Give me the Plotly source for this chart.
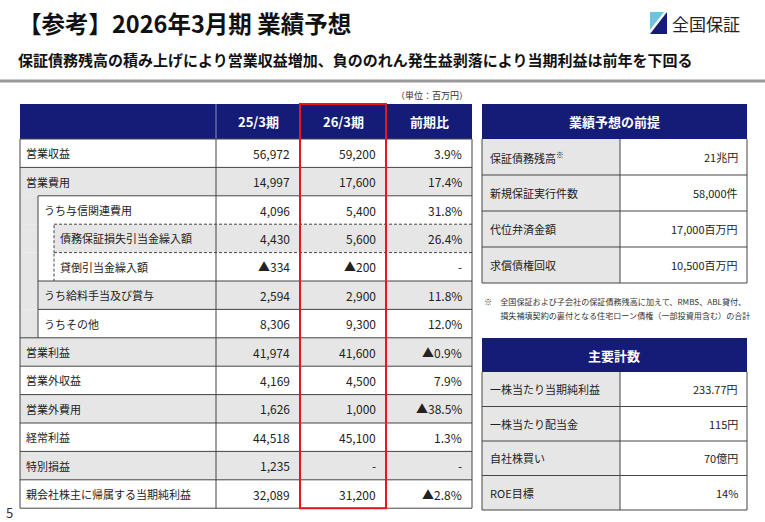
import plotly.graph_objects as go

FONT = "Noto Sans CJK JP"
NAVY = "#141c78"
GRAY = "#e6e6e6"

col_headers = ["25/3期", "26/3期", "前期比"]
row_labels = ["営業収益", "営業費用", "うち与信関連費用", "債務保証損失引当金繰入額", "貸倒引当金繰入額",
              "うち給料手当及び賞与", "うちその他", "営業利益", "営業外収益", "営業外費用", "経常利益",
              "特別損益", "親会社株主に帰属する当期純利益"]
row_levels = [0, 0, 1, 2, 2, 1, 1, 0, 0, 0, 0, 0, 0]
fy25 = ["56,972", "14,997", "4,096", "4,430", "▲334", "2,594", "8,306", "41,974", "4,169", "1,626", "44,518", "1,235", "32,089"]
fy26 = ["59,200", "17,600", "5,400", "5,600", "▲200", "2,900", "9,300", "41,600", "4,500", "1,000", "45,100", "-", "31,200"]
yoy = ["3.9%", "17.4%", "31.8%", "26.4%", "-", "11.8%", "12.0%", "▲0.9%", "7.9%", "▲38.5%", "1.3%", "-", "▲2.8%"]

prem_labels = ["保証債務残高<sup>※</sup>", "新規保証実行件数", "代位弁済金額", "求償債権回収"]
prem_values = ["21兆円", "58,000件", "17,000百万円", "10,500百万円"]
key_labels = ["一株当たり当期純利益", "一株当たり配当金", "自社株買い", "ROE目標"]
key_values = ["233.77円", "115円", "70億円", "14%"]

shapes, ann = [], []
DASH = "3px,2px"

def rect(x0, y0, x1, y1, fill, line=None, w=1, dash=None):
    shapes.append(dict(type="rect", xref="x", yref="y", x0=x0, y0=y0, x1=x1, y1=y1,
                       fillcolor=fill, line=dict(color=line or "rgba(0,0,0,0)", width=w, dash=dash), layer="below"))

def line(x0, y0, x1, y1, color="#555", w=1, dash=None):
    shapes.append(dict(type="line", xref="x", yref="y", x0=x0, y0=y0, x1=x1, y1=y1,
                       line=dict(color=color, width=w, dash=dash)))

def text(x, y, t, size=12, color="#222", anchor="left", bold=False):
    if bold:
        t = "<b>" + t + "</b>"
    ann.append(dict(x=x, y=y, xref="x", yref="y", text=t, showarrow=False, xanchor=anchor, yanchor="middle",
                    font=dict(family=FONT, size=size, color=color)))

text(16, 23, "【参考】2026年3月期 業績予想", 23.5, "#111", bold=True)
text(16, 59, "保証債務残高の積み上げにより営業収益増加、負ののれん発生益剥落により当期利益は前年を下回る", 15, "#111", bold=True)
line(0, 81, 765, 81, "#9a9a9a", 3)
shapes.append(dict(type="path", path="M 650 34 L 667 12 L 667 34 Z", fillcolor=NAVY, line=dict(width=0)))
shapes.append(dict(type="path", path="M 650 12 L 664 12 L 650 30 Z", fillcolor="#6fc3df", line=dict(width=0)))
text(670, 23, "全国保証", 17, "#222")
text(4, 512, "5", 13, "#333")

xs = [20, 216, 300, 386, 472]
top, hh, rh = 104, 35, 28.4
text(470, 95, "（単位：百万円）", 9, "#333", "right")
rect(xs[0], top, xs[4], top + hh, NAVY)
for i, h in enumerate(col_headers):
    text((xs[i + 1] + xs[i + 2]) / 2, top + hh / 2, h, 13, "white", "center", True)
line(xs[1], top, xs[1], top + hh, "#8a90c0", 1)
line(xs[3], top, xs[3], top + hh, "#8a90c0", 1)
y0 = top + hh
for r, lab in enumerate(row_labels):
    ya, yb = y0 + r * rh, y0 + (r + 1) * rh
    fill = GRAY if r % 2 == 1 else "white"
    lvl = row_levels[r]
    indent = [20, 38, 54][lvl]
    if lvl >= 1:
        rect(20, ya, 38, yb, GRAY)
    if lvl == 2:
        rect(38, ya, 54, yb, "white")
    rect(indent, ya, xs[4], yb, fill)
    text(indent + 4, (ya + yb) / 2, lab, 11, "#222")
    for c, v in enumerate([fy25[r], fy26[r], yoy[r]]):
        text(xs[c + 2] - 8, (ya + yb) / 2, v, 12, "#222", "right")
    if lvl == 2:
        line(54, ya, xs[4], ya, "#444", 1, DASH)
    else:
        line(indent, ya, xs[4], ya, "#444", 1)
for r, lvl in enumerate(row_levels):
    ya, yb = y0 + r * rh, y0 + (r + 1) * rh
    if lvl >= 1:
        line(38, ya, 38, yb, "#444", 1)
    if lvl == 2:
        line(54, ya + 1, 54, yb, "#444", 1, DASH)
bottom = y0 + len(row_labels) * rh
line(20, bottom, xs[4], bottom, "#444", 1)
for x in xs:
    line(x, y0, x, bottom, "#444", 1)
rect(xs[2], top, xs[3], bottom, "rgba(0,0,0,0)", "#e8161b", 2)
shapes[-1]["layer"] = "above"

def side_table(ytop, title, labels, values, rowh, hdr=35):
    rect(482, ytop, 747, ytop + hdr, NAVY)
    text(614, ytop + hdr / 2, title, 13, "white", "center", True)
    for i, (l, v) in enumerate(zip(labels, values)):
        ya, yb = ytop + hdr + i * rowh, ytop + hdr + (i + 1) * rowh
        rect(482, ya, 620, yb, GRAY)
        rect(620, ya, 747, yb, "white")
        text(488, (ya + yb) / 2, l, 11, "#222")
        text(740, (ya + yb) / 2, v, 11, "#222", "right")
        line(482, yb, 747, yb, "#444", 1)
    yend = ytop + hdr + len(labels) * rowh
    for x in (482, 620, 747):
        line(x, ytop + hdr, x, yend, "#444", 1)

side_table(104, "業績予想の前提", prem_labels, prem_values, 36)
text(482, 301, "※　全国保証および子会社の保証債務残高に加えて、RMBS、ABL貸付、", 8.1, "#333")
text(482, 315, "　　損失補填契約の裏付となる住宅ローン債権（一部投資用含む）の合計", 8.1, "#333")
side_table(338, "主要計数", key_labels, key_values, 34.5, 34)

fig = go.Figure()
fig.update_layout(width=765, height=522, margin=dict(l=0, r=0, t=0, b=0),
                  plot_bgcolor="white", paper_bgcolor="white", shapes=shapes, annotations=ann,
                  xaxis=dict(range=[0, 765], visible=False, fixedrange=True),
                  yaxis=dict(range=[522, 0], visible=False, fixedrange=True), showlegend=False)
fig.write_html("out.html", config={"displayModeBar": False},
               post_script="document.body.style.margin='0';document.body.style.overflow='hidden';")
